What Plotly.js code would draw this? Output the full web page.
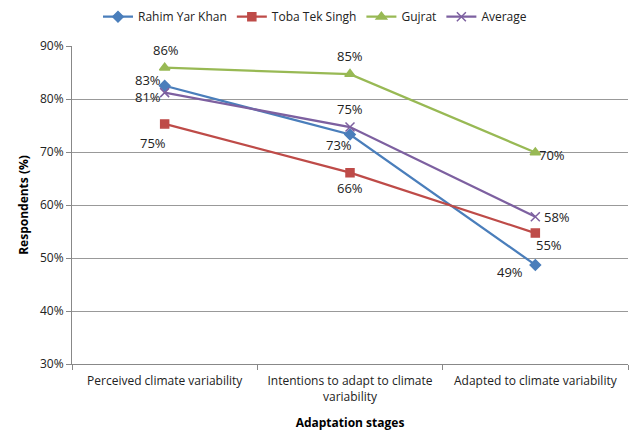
<!DOCTYPE html>
<html><head><meta charset="utf-8">
<script src="https://cdn.plot.ly/plotly-3.0.1.min.js"></script>
<style>html,body{margin:0;padding:0;background:#fff}#chart{width:630px;height:433px}</style>
</head><body><div id="chart"></div>
<script>
const categories = ["Perceived climate variability", "Intentions to adapt to climate<br>variability", "Adapted to climate variability"];
const rahim = [0.825, 0.733, 0.487];
const toba = [0.753, 0.661, 0.547];
const gujrat = [0.859, 0.847, 0.699];
const average = [0.812, 0.747, 0.578];
const yTicks = [0.3, 0.4, 0.5, 0.6, 0.7, 0.8, 0.9];

const series = [
  {name: "Rahim Yar Khan", y: rahim, color: "#4A7EBB", symbol: "diamond", size: 8,
   shifts: [[-17, 6], [-11, -10], [-25, -7]]},
  {name: "Toba Tek Singh", y: toba, color: "#BE4B48", symbol: "square", size: 8,
   shifts: [[-12, -19], [0, -15], [14, -12]]},
  {name: "Gujrat", y: gujrat, color: "#98B954", symbol: "triangle-up", size: 9,
   shifts: [[1, 18], [0, 18], [17, -2]]},
  {name: "Average", y: average, color: "#7D60A0", symbol: "x-thin-open", size: 9,
   shifts: [[-17, -4], [0, 18], [22, 0]]}
];

const FONT = "Open Sans, Liberation Sans, sans-serif";

const traces = series.map(s => ({
  type: "scatter", mode: "lines+markers", name: s.name,
  x: categories, y: s.y,
  line: {color: s.color, width: 2.25},
  marker: {symbol: s.symbol, size: s.size, color: s.color, line: {color: s.color, width: 1.5}},
  cliponaxis: false
}));

const annotations = [];
series.forEach(s => {
  s.y.forEach((v, i) => {
    annotations.push({
      x: categories[i], y: v, xref: "x", yref: "y",
      text: Math.round(v * 100) + "%", showarrow: false,
      xshift: s.shifts[i][0], yshift: s.shifts[i][1],
      font: {family: FONT, size: 13, color: "#222"}
    });
  });
});

const layout = {
  width: 630, height: 433,
  margin: {l: 72, r: 2, t: 46, b: 69},
  paper_bgcolor: "#fff", plot_bgcolor: "#fff",
  showlegend: true,
  legend: {orientation: "h", x: 0.5, xanchor: "center", xref: "container",
    y: 0.995, yanchor: "top", yref: "container",
    font: {family: FONT, size: 12, color: "#222"}},
  xaxis: {
    type: "category", range: [-0.5, 2.5],
    showline: true, linecolor: "#888", linewidth: 1,
    ticks: "outside", tickson: "boundaries", ticklen: 5, tickcolor: "#888",
    ticklabelstandoff: 6,
    showgrid: false, zeroline: false,
    tickfont: {family: FONT, size: 12, color: "#222"},
    title: {text: "<b>Adaptation stages</b>", standoff: 14,
      font: {family: FONT, size: 12, color: "#000"}}
  },
  yaxis: {
    range: [0.3, 0.9], tickvals: yTicks, tickformat: ".0%",
    showline: true, linecolor: "#888", linewidth: 1,
    ticks: "outside", ticklen: 5, tickcolor: "#888",
    showgrid: true, gridcolor: "#999", gridwidth: 1, zeroline: false,
    tickfont: {family: FONT, size: 12, color: "#222"},
    title: {text: "<b>Respondents (%)</b>", standoff: 8,
      font: {family: FONT, size: 12, color: "#000"}}
  },
  annotations: annotations
};
Plotly.newPlot("chart", traces, layout, {displayModeBar: false, staticPlot: true});
</script></body></html>
